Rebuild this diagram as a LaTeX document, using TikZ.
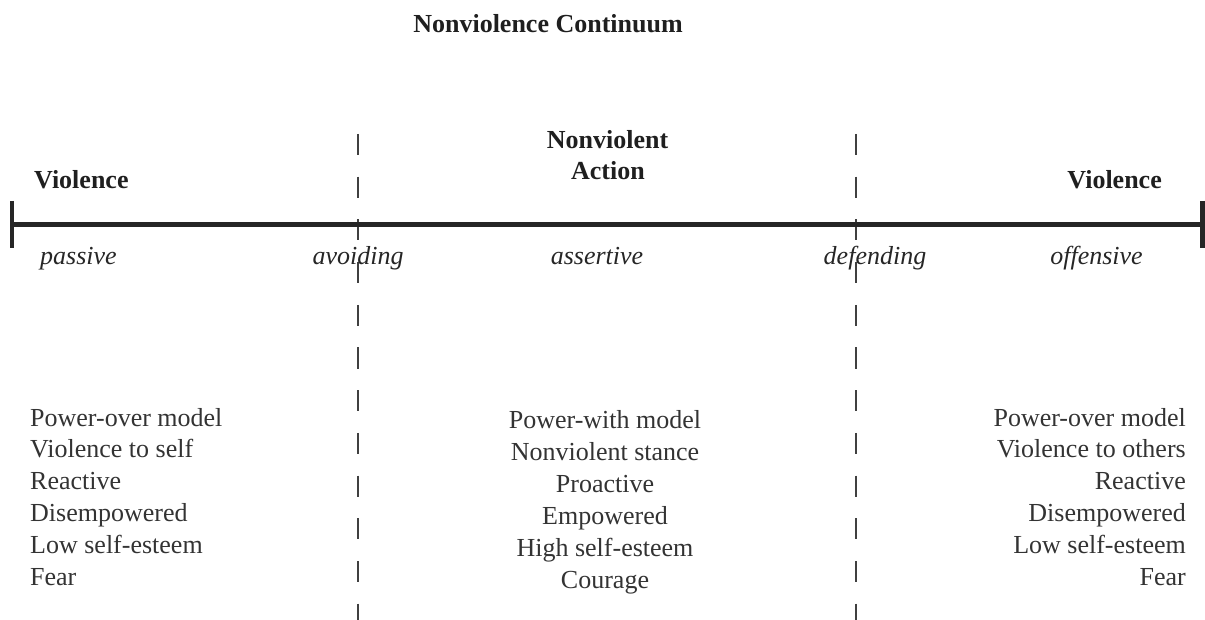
\documentclass[tikz,border=0pt]{standalone}
\usepackage{fontspec}
\setmainfont{Liberation Serif}
\begin{document}
\begin{tikzpicture}[x=1pt,y=-1pt,
  txt/.style={inner sep=0pt,text=black!80,font=\fontsize{26}{32}\selectfont},
  head/.style={inner sep=0pt,text=black!88,font=\fontsize{26}{32}\selectfont\bfseries},
  kind/.style={inner sep=0pt,text=black!85,font=\fontsize{26}{32}\selectfont\itshape},
  divider/.style={draw=black!75,line width=1.2pt,dash pattern=on 21pt off 21.7pt},
  axis/.style={draw=black!85,line width=5pt},
  endbar/.style={draw=black!85,line width=4.5pt}]
\useasboundingbox (0,0) rectangle (1205,620);

% title
\node[head,anchor=base] (title) at (548,33) {Nonviolence Continuum};

% dashed dividers
\coordinate (d1t) at (358,134); \coordinate (d1b) at (358,625);
\coordinate (d2t) at (856,134); \coordinate (d2b) at (856,625);
\draw[divider] (d1t) -- (d1b);
\draw[divider] (d2t) -- (d2b);

% continuum axis with end bars
\coordinate (aL) at (12,225);   \coordinate (aR) at (1202.5,225);
\coordinate (bLt) at (12,201);  \coordinate (bLb) at (12,248);
\coordinate (bRt) at (1202.5,201); \coordinate (bRb) at (1202.5,248);
\draw[axis] (aL) -- (aR);
\draw[endbar] (bLt) -- (bLb);
\draw[endbar] (bRt) -- (bRb);

% headings above the axis
\node[head,anchor=base west] (violL) at (34,189) {Violence};
\node[head,anchor=base east] (violR) at (1162,189) {Violence};
\node[head,anchor=base] (nva1) at (607.5,149) {Nonviolent};
\node[head,anchor=base] (nva2) at (608,180) {Action};

% positions along the axis
\node[kind,anchor=base west] (passive) at (40,265) {passive};
\node[kind,anchor=base] (avoiding) at (358,265) {avoiding};
\node[kind,anchor=base] (assertive) at (597,265) {assertive};
\node[kind,anchor=base] (defending) at (875,265) {defending};
\node[kind,anchor=base] (offensive) at (1096.5,265) {offensive};

% traits of each region
\foreach \t [count=\i] in {Power-over model,Violence to self,Reactive,Disempowered,Low self-esteem,Fear}
  \node[txt,anchor=base west] (left\i) at (30,{426+31.8*(\i-1)}) {\t};
\foreach \t [count=\i] in {Power-with model,Nonviolent stance,Proactive,Empowered,High self-esteem,Courage}
  \node[txt,anchor=base] (mid\i) at (605,{428+32*(\i-1)}) {\t};
\foreach \t [count=\i] in {Power-over model,Violence to others,Reactive,Disempowered,Low self-esteem,Fear}
  \node[txt,anchor=base east] (right\i) at (1186,{426+31.8*(\i-1)}) {\t};
\end{tikzpicture}
\end{document}
